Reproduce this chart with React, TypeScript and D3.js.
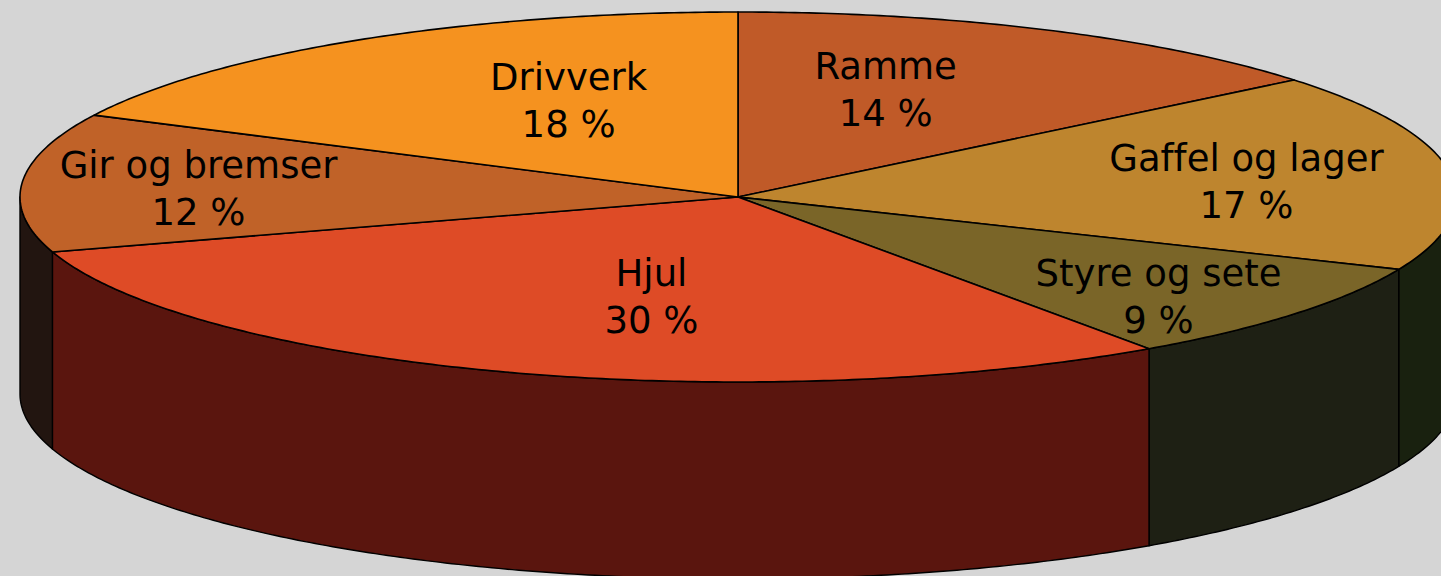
import React from "react";
import * as d3 from "d3";

const categories = ["Ramme", "Gaffel og lager", "Styre og sete", "Hjul", "Gir og bremser", "Drivverk"];
const values = [14.1, 17.3, 8.9, 29.9, 12.1, 17.7];
const percentLabels = ["14 %", "17 %", "9 %", "30 %", "12 %", "18 %"];

const topColors = ["#C05A28", "#BE852E", "#7A6528", "#DE4B26", "#C06228", "#F5921F"];
const sideColors = ["#5A2410", "#19210F", "#1E2014", "#5A150E", "#221510", "#6A3A10"];
// label nudges (px) relative to the projected point at 60% radius on the slice mid-angle
const labelNudge: [number, number][] = [[-37, -8], [82, 0], [86, 29], [53, -6], [-110, 0], [58, -3]];

const W = 1441, H = 576;
const cx = 738, cy = 197, rx = 718, ry = 185, depth = 197;

function pt(a: number, z = 0): [number, number] {
  return [cx + Math.sin(a) * rx, cy - Math.cos(a) * ry + z];
}

function arcPts(a0: number, a1: number, z = 0): [number, number][] {
  const n = Math.max(2, Math.ceil(Math.abs(a1 - a0) / 0.01));
  return d3.range(n + 1).map((i) => pt(a0 + ((a1 - a0) * i) / n, z));
}

export default function App() {
  const pie = d3.pie<number>().sort(null).startAngle(0).endAngle(2 * Math.PI);
  const arcs = pie(values);
  const line = d3.line();
  const lo = Math.PI / 2, hi = (3 * Math.PI) / 2;

  const sides = arcs
    .map((a, i) => {
      const s = Math.max(a.startAngle, lo), e = Math.min(a.endAngle, hi);
      if (e <= s) return null;
      const pts = [...arcPts(s, e), ...arcPts(e, s, depth)];
      return <path key={"s" + i} d={line(pts)! + "Z"} fill={sideColors[i]} stroke="#000" strokeWidth={1.4} strokeLinejoin="round" />;
    })
    .filter(Boolean);

  const tops = arcs.map((a, i) => {
    const pts: [number, number][] = [[cx, cy], ...arcPts(a.startAngle, a.endAngle)];
    return <path key={"t" + i} d={line(pts)! + "Z"} fill={topColors[i]} stroke="#000" strokeWidth={1.6} strokeLinejoin="round" />;
  });

  const labels = arcs.map((a, i) => {
    const m = (a.startAngle + a.endAngle) / 2;
    const x = cx + Math.sin(m) * rx * 0.6 + labelNudge[i][0];
    const y = cy - Math.cos(m) * ry * 0.6 + labelNudge[i][1];
    return (
      <text key={"l" + i} x={x} y={y} textAnchor="middle" fontFamily="'DejaVu Sans', sans-serif" fontSize={37} fill="#000"
        style={{ fontVariantLigatures: "none" }}>
        <tspan x={x} dy={-10}>{categories[i]}</tspan>
        <tspan x={x} dy={47}>{percentLabels[i]}</tspan>
      </text>
    );
  });

  return (
    <svg width={W} height={H} style={{ position: "fixed", left: 0, top: 0 }}>
      <rect x={0} y={0} width={W} height={H} fill="#D5D5D5" />
      {sides}
      {tops}
      {labels}
    </svg>
  );
}
